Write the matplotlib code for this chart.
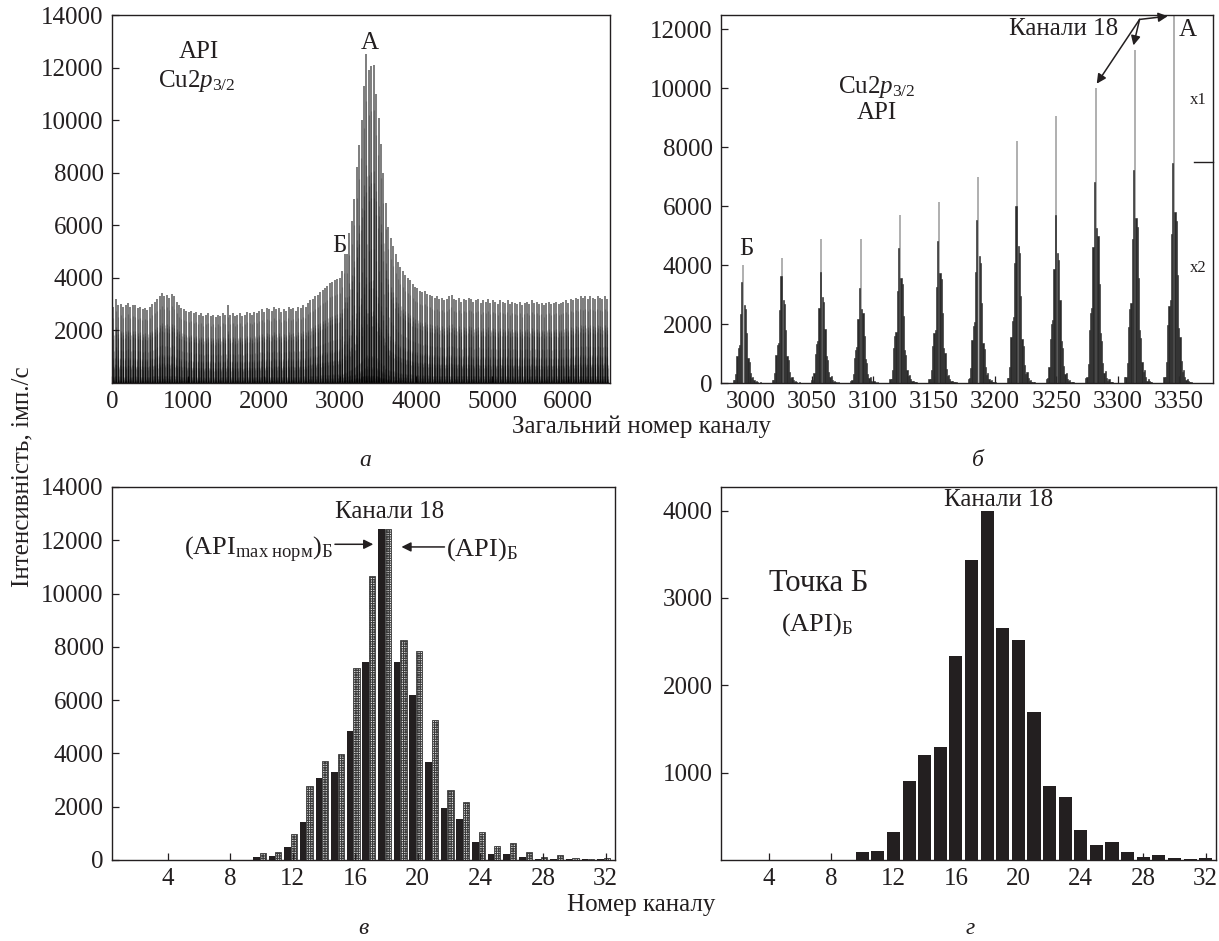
import numpy as np
import matplotlib
matplotlib.use('Agg')
import matplotlib.pyplot as plt
from matplotlib import transforms

plt.rcParams['font.family'] = ['Liberation Serif', 'DejaVu Serif']
plt.rcParams['mathtext.fontset'] = 'custom'
plt.rcParams['mathtext.rm'] = 'Liberation Serif'
plt.rcParams['mathtext.it'] = 'Liberation Serif:italic'
plt.rcParams['hatch.linewidth'] = 0.8

INK = '#231f20'

# channel numbers inside one 32-channel block
chan = np.arange(1, 33)

# г: point Б, one block of 32 channels
g_vals = [0, 0, 0, 0, 0, 0, 0, 0, 0, 90, 100, 320, 900, 1200, 1290, 2330,
          3430, 4000, 2660, 2520, 1690, 850, 720, 340, 175, 205, 90, 40, 60, 25, 15, 20]

# в: (API max норм)_Б (black) and (API)_Б (hatched)
v_norm = [0, 0, 0, 0, 0, 0, 0, 0, 0, 100, 160, 500, 1430, 3070, 3300, 4860,
          7450, 12440, 7450, 6200, 3670, 1940, 1550, 690, 220, 230, 100, 30, 30, 40, 30, 30]
v_api = [0, 0, 0, 0, 0, 0, 0, 0, 0, 260, 290, 970, 2790, 3710, 3990, 7200,
         10650, 12440, 8270, 7840, 5260, 2630, 2190, 1040, 510, 630, 290, 120, 190, 80, 40, 60]

# б: blocks 93..104 of the spectrum (channel 18 peak and tallest dark bar)
b_blocks = list(range(93, 105))
b_peak = [4000, 4250, 4900, 4900, 5700, 6150, 7000, 8200, 9050, 10000, 11300, 12500]
b_dark = [3430, 3640, 3750, 3220, 4580, 4800, 5540, 5990, 5700, 6800, 7210, 7460]

# а: channel-18 height of every block along the whole spectrum
a_env = [
    2900, 3200, 2950, 3000, 2900, 2950, 3050, 2900, 2980, 2950,
    2850, 2900, 2800, 2850, 2780, 2900, 3000, 3100, 3200, 3300,
    3420, 3300, 3350, 3250, 3400, 3300, 3100, 2950, 2850, 2800,
    2750, 2700, 2750, 2650, 2700, 2600, 2650, 2550, 2600, 2650,
    2550, 2600, 2500, 2600, 2550, 2650, 2600, 2950, 2600, 2650,
    2550, 2600, 2650, 2550, 2600, 2700, 2650, 2600, 2700, 2650,
    2750, 2800, 2700, 2850, 2800, 2750, 2900, 2800, 2850, 2700,
    2800, 2750, 2900, 2800, 2850, 2750, 2900, 2850, 2950, 2900,
    3050, 3150, 3200, 3300, 3350, 3450, 3550, 3600, 3700, 3800,
    3850, 3900, 3950, 4000, 4250, 4900, 4900, 5700, 6150, 7000,
    8200, 9050, 10000, 11300, 12500, 11900, 12050, 12100, 11000, 10100,
    9100, 8000, 6850, 5950, 5500, 5200, 4900, 4600, 4400, 4250,
    4100, 4000, 3900, 3750, 3650, 3600, 3500, 3450, 3500, 3400,
    3350, 3300, 3250, 3300, 3200, 3250, 3150, 3200, 3300, 3350,
    3200, 3150, 3250, 3100, 3200, 3150, 3250, 3200, 3100, 3150,
    3200, 3050, 3150, 3100, 3200, 3050, 3150, 3100, 3000, 3150,
    3100, 3050, 3150, 3000, 3100, 3050, 3000, 3100, 2950, 3050,
    3100, 3000, 3150, 3050, 3100, 3000, 3050, 2950, 3050, 3100,
    3000, 3050, 3100, 3000, 3050, 3100, 3150, 3050, 3200, 3150,
    3250, 3200, 3300, 3250, 3300, 3200, 3300, 3250, 3200, 3300,
    3250, 3200, 3300, 3200,
]

W, H = 1219, 941


def box(l, t, r, b):
    return [l / W, 1 - b / H, (r - l) / W, (b - t) / H]


def style(ax):
    ax.tick_params(direction='in', length=5, width=0.9, labelsize=18,
                   pad=6, colors=INK, labelcolor=INK)
    for s in ax.spines.values():
        s.set_color(INK)
        s.set_linewidth(1.0)


fig = plt.figure(figsize=(W / 100, H / 100), dpi=100)

# ---------------- а ----------------
ax = fig.add_axes(box(112, 15, 610, 383))
g = np.array(g_vals, float)
env = np.array(a_env, float)
blocks = np.arange(len(env))
xs = (32 * blocks[:, None] + chan[None, :])
hs = np.outer(env, g / g[17])
other = chan != 18
ax.vlines(32 * blocks + 18, 0, env, colors='#5a5a5a', lw=1.1, zorder=1)
m = hs[:, other] > 0
ax.vlines(xs[:, other][m], 0, hs[:, other][m], colors='black', lw=0.9,
          alpha=0.2, zorder=2)
ax.set_xlim(0, 6550)
ax.set_ylim(0, 14000)
ax.set_xticks(range(0, 7000, 1000))
ax.set_yticks(range(2000, 16000, 2000))
style(ax)
ax.text(1140, 12580, 'API', fontsize=18, ha='center', va='center', color=INK)
ax.text(1120, 11500, r'Cu2$\mathit{p}_{\mathrm{3/2}}$', fontsize=18,
        ha='center', va='center', color=INK)
ax.text(3390, 12950, 'А', fontsize=18, ha='center', va='center', color=INK)
ax.text(2990, 5200, 'Б', fontsize=18, ha='center', va='center', color=INK)

# ---------------- б ----------------
ax = fig.add_axes(box(721, 15, 1213, 383))
for k, pk, dk in zip(b_blocks, b_peak, b_dark):
    ax.vlines(32 * k + 18, 0, pk, colors='#9a9a9a', lw=1.1, zorder=1)
    ax.bar(32 * k + chan[other], g[other] * dk / g[16], width=1.0,
           color='#2a2a2a', edgecolor='#2a2a2a', lw=0.4, zorder=2)
ax.set_xlim(2976, 3378)
ax.set_ylim(0, 12480)
ax.set_xticks(range(3000, 3400, 50))
ax.set_yticks(range(0, 14000, 2000))
style(ax)
ax.text(3103, 10050, r'Cu2$\mathit{p}_{\mathrm{3/2}}$', fontsize=18,
        ha='center', va='center', color=INK)
ax.text(3103, 9150, 'API', fontsize=18, ha='center', va='center', color=INK)
ax.text(2997, 4550, 'Б', fontsize=18, ha='center', va='center', color=INK)
ax.text(3256, 12020, 'Канали 18', fontsize=18, ha='center', va='center', color=INK)
ax.text(3357, 11960, 'А', fontsize=18, ha='center', va='center', color=INK)
ax.text(3366, 9600, 'x1', fontsize=12, ha='center', va='center', color=INK)
ax.text(3366, 3900, 'x2', fontsize=12, ha='center', va='center', color=INK)
tr = transforms.blended_transform_factory(ax.transAxes, ax.transData)
ax.plot([0.962, 1.0], [7500, 7500], transform=tr, color=INK, lw=1.0, clip_on=False)
hub = (3318, 12330)
for tip in [(3341, 12440), (3313, 11450), (3283, 10150)]:
    ax.annotate('', xy=tip, xytext=hub,
                arrowprops=dict(arrowstyle='-|>', color=INK, lw=1.1,
                                mutation_scale=14, shrinkA=0, shrinkB=0))

# ---------------- в ----------------
ax = fig.add_axes(box(112, 487, 615, 860))
ax.bar(chan - 0.33, v_norm, width=0.42, color=INK, lw=0)
ax.bar(chan + 0.08, v_api, width=0.4, facecolor='#e6e6e6', edgecolor='#3c3c3c',
       hatch='+++++++', lw=0.6)
ax.set_xlim(0.45, 32.6)
ax.set_ylim(0, 14000)
ax.set_xticks(range(4, 36, 4))
ax.set_yticks(range(0, 16000, 2000))
style(ax)
ax.text(18.2, 13050, 'Канали 18', fontsize=18, ha='center', va='center', color=INK)
ax.text(14.6, 11650, r'(API$_{\mathrm{max\ норм}}$)$_{\mathrm{Б}}$', fontsize=19,
        ha='right', va='center', color=INK)
ax.text(21.8, 11650, r'(API)$_{\mathrm{Б}}$', fontsize=19,
        ha='left', va='center', color=INK)
ax.annotate('', xy=(17.15, 11850), xytext=(14.7, 11850),
            arrowprops=dict(arrowstyle='-|>', color=INK, lw=1.1,
                            mutation_scale=14, shrinkA=0, shrinkB=0))
ax.annotate('', xy=(18.95, 11750), xytext=(21.7, 11750),
            arrowprops=dict(arrowstyle='-|>', color=INK, lw=1.1,
                            mutation_scale=14, shrinkA=0, shrinkB=0))

# ---------------- г ----------------
ax = fig.add_axes(box(721, 487, 1216, 860))
ax.bar(chan, g_vals, width=0.84, color=INK, lw=0)
ax.set_xlim(0.95, 32.66)
ax.set_ylim(0, 4270)
ax.set_xticks(range(4, 36, 4))
ax.set_yticks(range(1000, 5000, 1000))
style(ax)
ax.text(18.7, 4120, 'Канали 18', fontsize=18, ha='center', va='center', color=INK)
ax.text(7.2, 3170, 'Точка Б', fontsize=22, ha='center', va='center', color=INK)
ax.text(7.1, 2700, r'(API)$_{\mathrm{Б}}$', fontsize=19, ha='center', va='center',
        color=INK)

# shared labels
fig.text(641 / W, 1 - 427 / H, 'Загальний номер каналу', fontsize=18,
         ha='center', va='center', color=INK)
fig.text(641 / W, 1 - 905 / H, 'Номер каналу', fontsize=18,
         ha='center', va='center', color=INK)
fig.text(22 / W, 1 - 477 / H, 'Інтенсивність, імп./с', fontsize=18,
         rotation=90, ha='center', va='center', color=INK)
for x, y, s in [(365, 460, 'а'), (978, 460, 'б'), (363, 928, 'в'), (970, 928, 'г')]:
    fig.text(x / W, 1 - y / H, s, fontsize=17, style='italic',
             ha='center', va='center', color=INK)

fig.savefig('out.png', dpi=100)
